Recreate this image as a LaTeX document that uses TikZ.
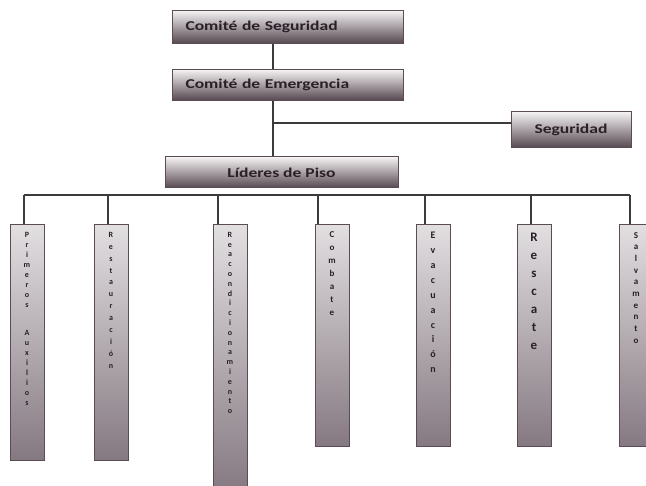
\documentclass[tikz,border=0pt]{standalone}
\usepackage{fontspec}
\setmainfont{Carlito}
\newfontfamily\boxfont[FakeStretch=1.3]{Carlito}
\definecolor{boxtop}{HTML}{F4F2F3}
\definecolor{boxmid}{HTML}{BDB6BB}
\definecolor{boxbot}{HTML}{55474F}
\definecolor{boxedge}{HTML}{5A4B55}
\definecolor{coltop}{HTML}{E2DFE1}
\definecolor{colbot}{HTML}{857981}
\definecolor{boxtext}{HTML}{2A1E27}
\definecolor{wire}{HTML}{3C3A3B}

\begin{document}
\begin{tikzpicture}[x=1pt,y=-1pt,
    topbox/.style={draw=boxedge,line width=1pt,top color=boxtop,
      middle color=boxmid,bottom color=boxbot,
      font=\boxfont\bfseries\fontsize{13.5}{13.5}\selectfont,text=boxtext},
    colbox/.style={draw=boxedge,line width=1pt,top color=coltop,
      bottom color=colbot,minimum width=34pt,anchor=north},
    coltext/.style={anchor=north,align=center,inner sep=0pt,text=boxtext},
    conn/.style={draw=wire,line width=1.1pt}]
  \useasboundingbox (0,0) rectangle (646,486);

  % upper chain
  \draw (172,10) node[topbox,anchor=north west,minimum height=33pt,
    text width=205pt,inner xsep=13pt,align=left] (cs) {Comité de Seguridad};
  \draw (172,69) node[topbox,anchor=north west,minimum height=31pt,
    text width=205pt,inner xsep=13pt,align=left] (ce) {Comité de Emergencia};
  \draw (571,130) node[topbox,minimum width=120pt,minimum height=36pt] (seg) {Seguridad};
  \draw (281.5,172.5) node[topbox,minimum width=233pt,minimum height=31pt] (lp) {Líderes de Piso};

  \coordinate (spine) at (273,0);
  \coordinate (branch) at (273,123);
  \draw[conn] (cs.south -| spine) -- (ce.north -| spine);
  \draw[conn] (ce.south -| spine) -- (lp.north -| spine);
  \draw[conn] (branch) -- (branch -| seg.west);

  % columns
  \draw (27,224) node[colbox,minimum height=236pt] (pa) {};
  \draw (111,224) node[colbox,minimum height=236pt] (re) {};
  \draw (230,224) node[colbox,minimum height=268pt] (rc) {};
  \draw (332,224) node[colbox,minimum height=222pt] (co) {};
  \draw (433,224) node[colbox,minimum height=222pt] (ev) {};
  \draw (534,224) node[colbox,minimum height=222pt] (rs) {};
  \draw (636,224) node[colbox,minimum height=222pt] (sa) {};

  \node[coltext,font=\bfseries\fontsize{8}{10}\selectfont] (pa-t) at ([yshift=-8pt]pa.north)
    {P\\r\\i\\m\\e\\r\\o\\s\\[18pt]A\\u\\x\\i\\l\\i\\o\\s};
  \node[coltext,font=\bfseries\fontsize{8}{11.9}\selectfont] (re-t) at ([yshift=-8pt]re.north)
    {R\\e\\s\\t\\a\\u\\r\\a\\c\\i\\ó\\n};
  \node[coltext,font=\bfseries\fontsize{8}{9.8}\selectfont] (rc-t) at ([yshift=-8pt]rc.north)
    {R\\e\\a\\c\\o\\n\\d\\i\\c\\i\\o\\n\\a\\m\\i\\e\\n\\t\\o};
  \node[coltext,font=\bfseries\fontsize{9}{13}\selectfont] (co-t) at ([yshift=-7pt]co.north)
    {C\\o\\m\\b\\a\\t\\e};
  \node[coltext,font=\bfseries\fontsize{10}{14.9}\selectfont] (ev-t) at ([yshift=-8pt]ev.north)
    {E\\v\\a\\c\\u\\a\\c\\i\\ó\\n};
  \node[coltext,font=\bfseries\fontsize{13}{18}\selectfont] (rs-t) at ([yshift=-9pt]rs.north)
    {R\\e\\s\\c\\a\\t\\e};
  \node[coltext,font=\bfseries\fontsize{9}{11.7}\selectfont] (sa-t) at ([yshift=-8pt]sa.north)
    {S\\a\\l\\v\\a\\m\\e\\n\\t\\o};

  % bus and drops
  \coordinate (busl) at (24,195);
  \coordinate (busr) at (630,195);
  \draw[conn] (busl) -- (busr);
  \foreach \b/\dx in {pa/-3,re/-3,rc/-12,co/-14,ev/-8,rs/-3,sa/-6}
    \draw[conn] ([xshift=\dx pt]\b.north |- busl) -- ([xshift=\dx pt]\b.north);
\end{tikzpicture}
\end{document}
